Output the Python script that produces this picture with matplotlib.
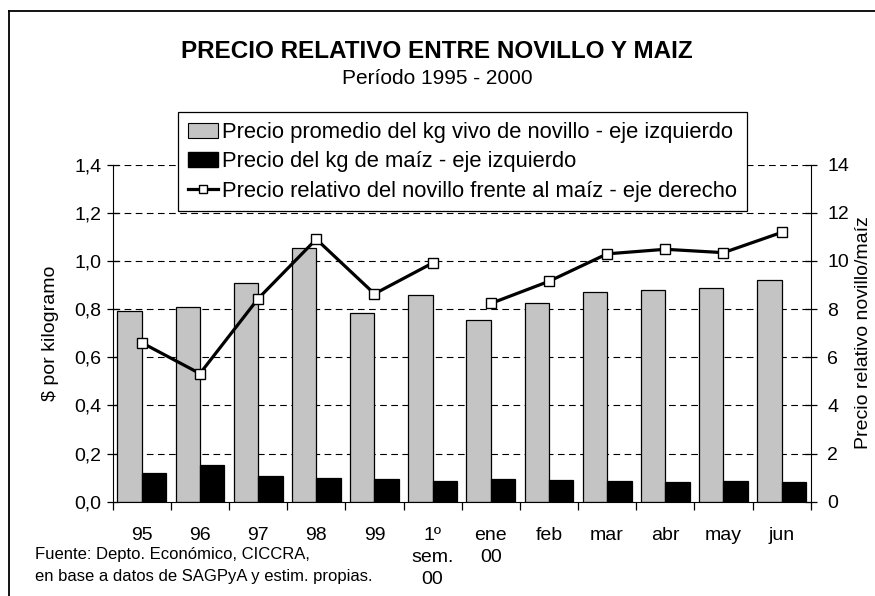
import matplotlib
matplotlib.use("Agg")
import matplotlib.pyplot as plt
import numpy as np
from matplotlib.patches import Patch
from matplotlib.lines import Line2D

plt.rcParams['font.family'] = ['Liberation Sans', 'DejaVu Sans']

categories = ["95", "96", "97", "98", "99", "1º\nsem.\n00", "ene\n00", "feb", "mar", "abr", "may", "jun"]
novillo = [0.79, 0.81, 0.907, 1.053, 0.785, 0.857, 0.756, 0.823, 0.872, 0.879, 0.888, 0.921]
maiz = [0.120, 0.152, 0.108, 0.098, 0.093, 0.087, 0.093, 0.092, 0.084, 0.083, 0.085, 0.082]
# relative price: annual/semester segment and monthly segment (line broken between them)
rel_anual = [6.6, 5.32, 8.43, 10.9, 8.63, 9.91]
rel_mensual = [8.23, 9.15, 10.29, 10.48, 10.34, 11.18]
left_ticks = [0.0, 0.2, 0.4, 0.6, 0.8, 1.0, 1.2, 1.4]
right_ticks = [0, 2, 4, 6, 8, 10, 12, 14]

W, H = 875, 596
fig = plt.figure(figsize=(W/100, H/100), dpi=100)
ax = fig.add_axes([112.7/W, 1-501.7/H, (810.7-112.7)/W, (501.7-164.5)/H])
ax2 = ax.twinx()

x = np.arange(len(categories))
w = 0.42
ax.bar(x - w/2, novillo, width=w, color='#c4c4c4', edgecolor='black', linewidth=0.9, zorder=2)
ax.bar(x + w/2, maiz, width=w, color='black', edgecolor='black', linewidth=0.9, zorder=2)

ax.set_ylim(0, 1.4)
ax.set_yticks(left_ticks)
ax.set_yticklabels([f"{v:.1f}".replace('.', ',') for v in left_ticks])
ax.set_xlim(-0.5, len(categories) - 0.5)
ax.set_xticks(x)
ax.set_xticklabels(categories, va='top', linespacing=1.4)
ax.set_xticks(np.arange(-0.5, len(categories)), minor=True)
ax.tick_params(axis='x', which='major', length=0, pad=18, labelsize=14)
ax.tick_params(axis='x', which='minor', length=6, width=0.9, direction='out')
ax.tick_params(axis='y', length=8, width=0.9, direction='inout', labelsize=14, pad=4)
for v in left_ticks[1:]:
    ax.axhline(v, color='black', linestyle=(0, (6, 4)), linewidth=0.8, zorder=1)
ax.spines['top'].set_visible(False)
ax.spines['right'].set_visible(False)
ax.set_ylabel("$ por kilogramo", fontsize=14, labelpad=11)

for seg_x, seg_y in ((x[:6], rel_anual), (x[6:], rel_mensual)):
    ax2.plot(seg_x, seg_y, color='black', linewidth=2.3, marker='s', markersize=7,
             markerfacecolor='white', markeredgecolor='black', markeredgewidth=1, zorder=3)
ax2.set_ylim(0, 14)
ax2.set_yticks(right_ticks)
ax2.tick_params(axis='y', length=8, width=0.9, direction='inout', labelsize=14, pad=8)
ax2.spines['top'].set_visible(False)
ax2.spines['left'].set_visible(False)
ax2.spines['bottom'].set_visible(False)

fig.text(437/W, 1-52/H, "PRECIO RELATIVO ENTRE NOVILLO Y MAIZ", ha='center', va='center',
         fontsize=17.5, fontweight='bold')
fig.text(437/W, 1-78/H, "Período 1995 - 2000", ha='center', va='center', fontsize=15)
fig.text(864/W, 1-333/H, "Precio relativo novillo/maíz", rotation=90, ha='center', va='center',
         fontsize=14)
fig.text(35/W, 1-555/H, "Fuente: Depto. Económico, CICCRA,", ha='left', va='center', fontsize=12)
fig.text(35/W, 1-577/H, "en base a datos de SAGPyA y estim. propias.", ha='left', va='center', fontsize=12)

handles = [Patch(facecolor='#c4c4c4', edgecolor='black', linewidth=0.8),
           Patch(facecolor='black', edgecolor='black'),
           Line2D([0], [0], color='black', linewidth=2.3, marker='s', markersize=6,
                  markerfacecolor='white', markeredgecolor='black', markeredgewidth=1)]
labels = ["Precio promedio del kg vivo de novillo - eje izquierdo",
          "Precio del kg de maíz - eje izquierdo",
          "Precio relativo del novillo frente al maíz - eje derecho"]
leg = fig.legend(handles, labels, loc='upper left', bbox_to_anchor=(178/W, 1-112/H),
                 borderaxespad=0, fontsize=15.8, frameon=True, fancybox=False, framealpha=1,
                 edgecolor='black', handlelength=1.35, handletextpad=0.2, labelspacing=0.38,
                 borderpad=0.45)
leg.get_frame().set_linewidth(0.9)

# outer chart border (left and top visible, right/bottom beyond the image)
fig.add_artist(Line2D([8.5/W, 8.5/W], [-0.01, 1-11/H], transform=fig.transFigure,
                      color='black', linewidth=1.3))
fig.add_artist(Line2D([8.5/W, 1.01], [1-11/H, 1-11/H], transform=fig.transFigure,
                      color='black', linewidth=1.3))

fig.savefig("out.png", dpi=100)
